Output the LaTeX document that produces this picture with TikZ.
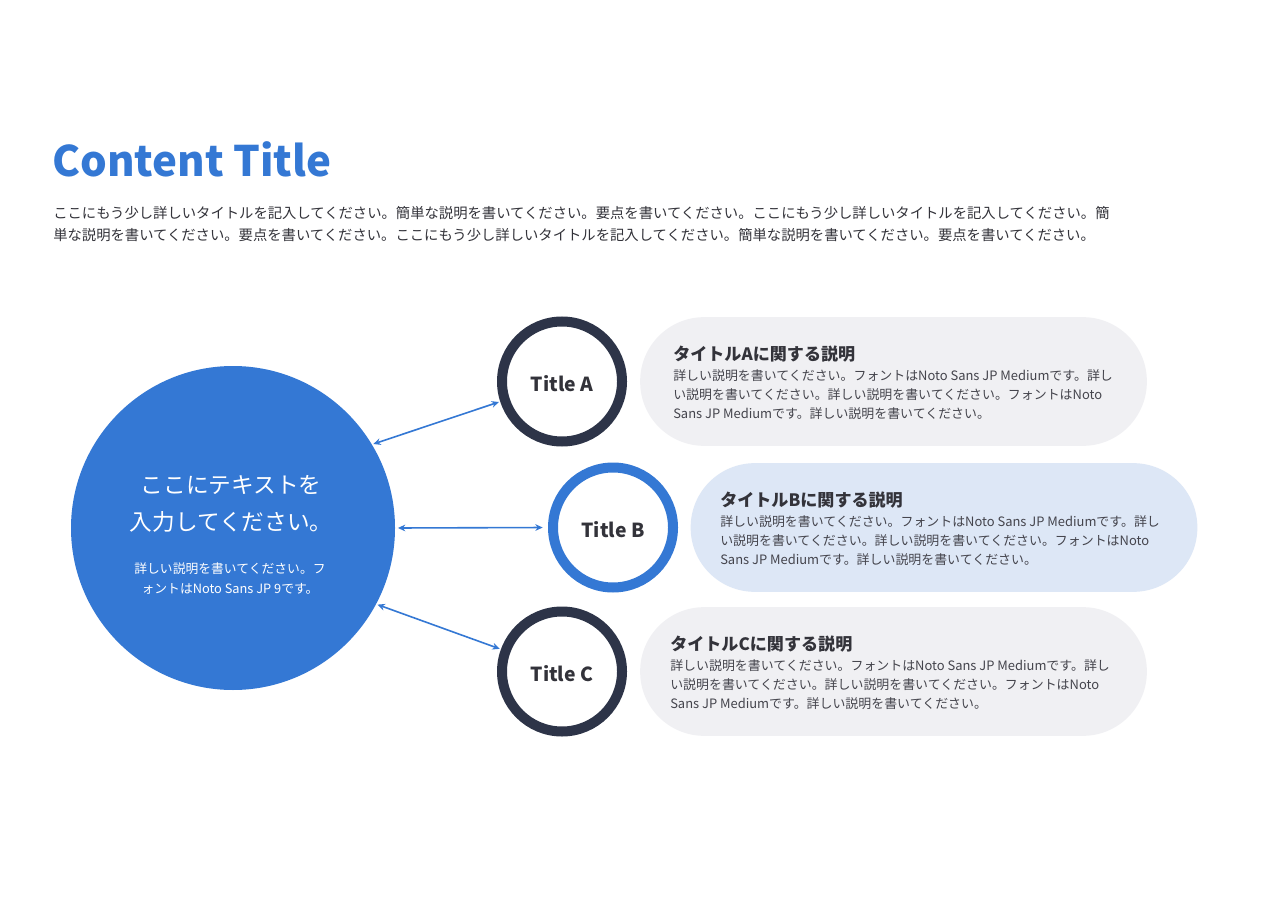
\documentclass[tikz,border=0pt]{standalone}
\usepackage{fontspec}
\setmainfont{Noto Sans CJK JP}
\usetikzlibrary{arrows.meta}
\definecolor{mainblue}{RGB}{52,120,212}
\definecolor{ringdark}{RGB}{45,52,72}
\definecolor{pillgray}{RGB}{240,240,243}
\definecolor{pillblue}{RGB}{221,231,246}
\definecolor{txtdark}{RGB}{51,51,58}
\definecolor{txtbody}{RGB}{68,68,76}
\begin{document}
\begin{tikzpicture}[x=0.75pt,y=-0.75pt,
  bigc/.style={circle,fill=mainblue,minimum size=243pt,inner sep=0pt},
  ringc/.style={circle,draw=#1,line width=7.5pt,fill=white,minimum size=90pt,inner sep=0pt},
  rlabel/.style={inner sep=0pt,font=\fontsize{14.5}{17}\selectfont\bfseries,text=txtdark},
  pill/.style={rectangle,fill=#1,rounded corners=48pt,minimum width=380pt,minimum height=96.5pt,inner sep=0pt},
  head/.style={anchor=base west,inner sep=0pt,font=\fontsize{12.8}{14}\selectfont\bfseries,text=txtdark},
  body/.style={anchor=base west,inner sep=0pt,font=\fontsize{9.7}{12}\selectfont,text=txtbody},
  desc/.style={anchor=base west,inner sep=0pt,font=\fontsize{10.75}{13}\selectfont,text=txtdark},
  conn/.style={draw=mainblue,line width=1.2pt,{Stealth[length=5.5pt,width=5pt]}-{Stealth[length=5.5pt,width=5pt]}},
  wtxt/.style={anchor=base,inner sep=0pt,text=white}
]
\useasboundingbox (0,0) rectangle (1280,905);
\fill[white] (0,0) rectangle (1280,905);

% title
\node[anchor=base west,inner sep=0pt,font=\fontsize{31.5}{36}\selectfont\bfseries,text=mainblue] (title) at (52,177) {Content Title};
\node[desc] (d1) at (53,219) {ここにもう少し詳しいタイトルを記入してください。簡単な説明を書いてください。要点を書いてください。ここにもう少し詳しいタイトルを記入してください。簡};
\node[desc] (d2) at (53,241) {単な説明を書いてください。要点を書いてください。ここにもう少し詳しいタイトルを記入してください。簡単な説明を書いてください。要点を書いてください。};

% pills
\node[pill=pillgray] (pa) at (893.5,381.5) {};
\node[pill=pillblue] (pb) at (944,527.5) {};
\node[pill=pillgray] (pc) at (893.5,671.5) {};

% big circle
\node[bigc] (big) at (233,528) {};
\node[wtxt,font=\fontsize{17}{20}\selectfont] (bt1) at (231,493) {ここにテキストを};
\node[wtxt,font=\fontsize{17}{20}\selectfont] (bt2) at (231,530) {入力してください。};
\node[wtxt,font=\fontsize{9.6}{12}\selectfont] (bt3) at (230,573) {詳しい説明を書いてください。フ};
\node[wtxt,font=\fontsize{9.6}{12}\selectfont] (bt4) at (230,593) {ォントはNoto Sans JP 9です。};

% ring circles
\node[ringc=ringdark] (ca) at (562,381.5) {};
\node[ringc=mainblue] (cb) at (613,527.5) {};
\node[ringc=ringdark] (cc) at (562,671.5) {};
\node[rlabel] (la) at (562,384) {Title A};
\node[rlabel] (lb) at (613,530) {Title B};
\node[rlabel] (lc) at (562,674) {Title C};

% connectors
\draw[conn,shorten <=1pt,shorten >=1pt] (big.31) -- (ca.198);
\draw[conn,shorten <=2pt,shorten >=4pt] (big.0) -- (cb.180);
\draw[conn,shorten <=1pt,shorten >=1pt] (big.-28) -- (cc.160);

% pill texts A
\node[head] (ha) at (673,360) {タイトルAに関する説明};
\node[body] (ba1) at (673,380) {詳しい説明を書いてください。フォントはNoto Sans JP Mediumです。詳し};
\node[body] (ba2) at (673,399) {い説明を書いてください。詳しい説明を書いてください。フォントはNoto};
\node[body] (ba3) at (673,418) {Sans JP Mediumです。詳しい説明を書いてください。};

% pill texts B
\node[head] (hb) at (720,506) {タイトルBに関する説明};
\node[body] (bb1) at (720,526) {詳しい説明を書いてください。フォントはNoto Sans JP Mediumです。詳し};
\node[body] (bb2) at (720,545) {い説明を書いてください。詳しい説明を書いてください。フォントはNoto};
\node[body] (bb3) at (720,564) {Sans JP Mediumです。詳しい説明を書いてください。};

% pill texts C
\node[head] (hc) at (670,650) {タイトルCに関する説明};
\node[body] (bc1) at (670,670) {詳しい説明を書いてください。フォントはNoto Sans JP Mediumです。詳し};
\node[body] (bc2) at (670,689) {い説明を書いてください。詳しい説明を書いてください。フォントはNoto};
\node[body] (bc3) at (670,708) {Sans JP Mediumです。詳しい説明を書いてください。};
\end{tikzpicture}
\end{document}
